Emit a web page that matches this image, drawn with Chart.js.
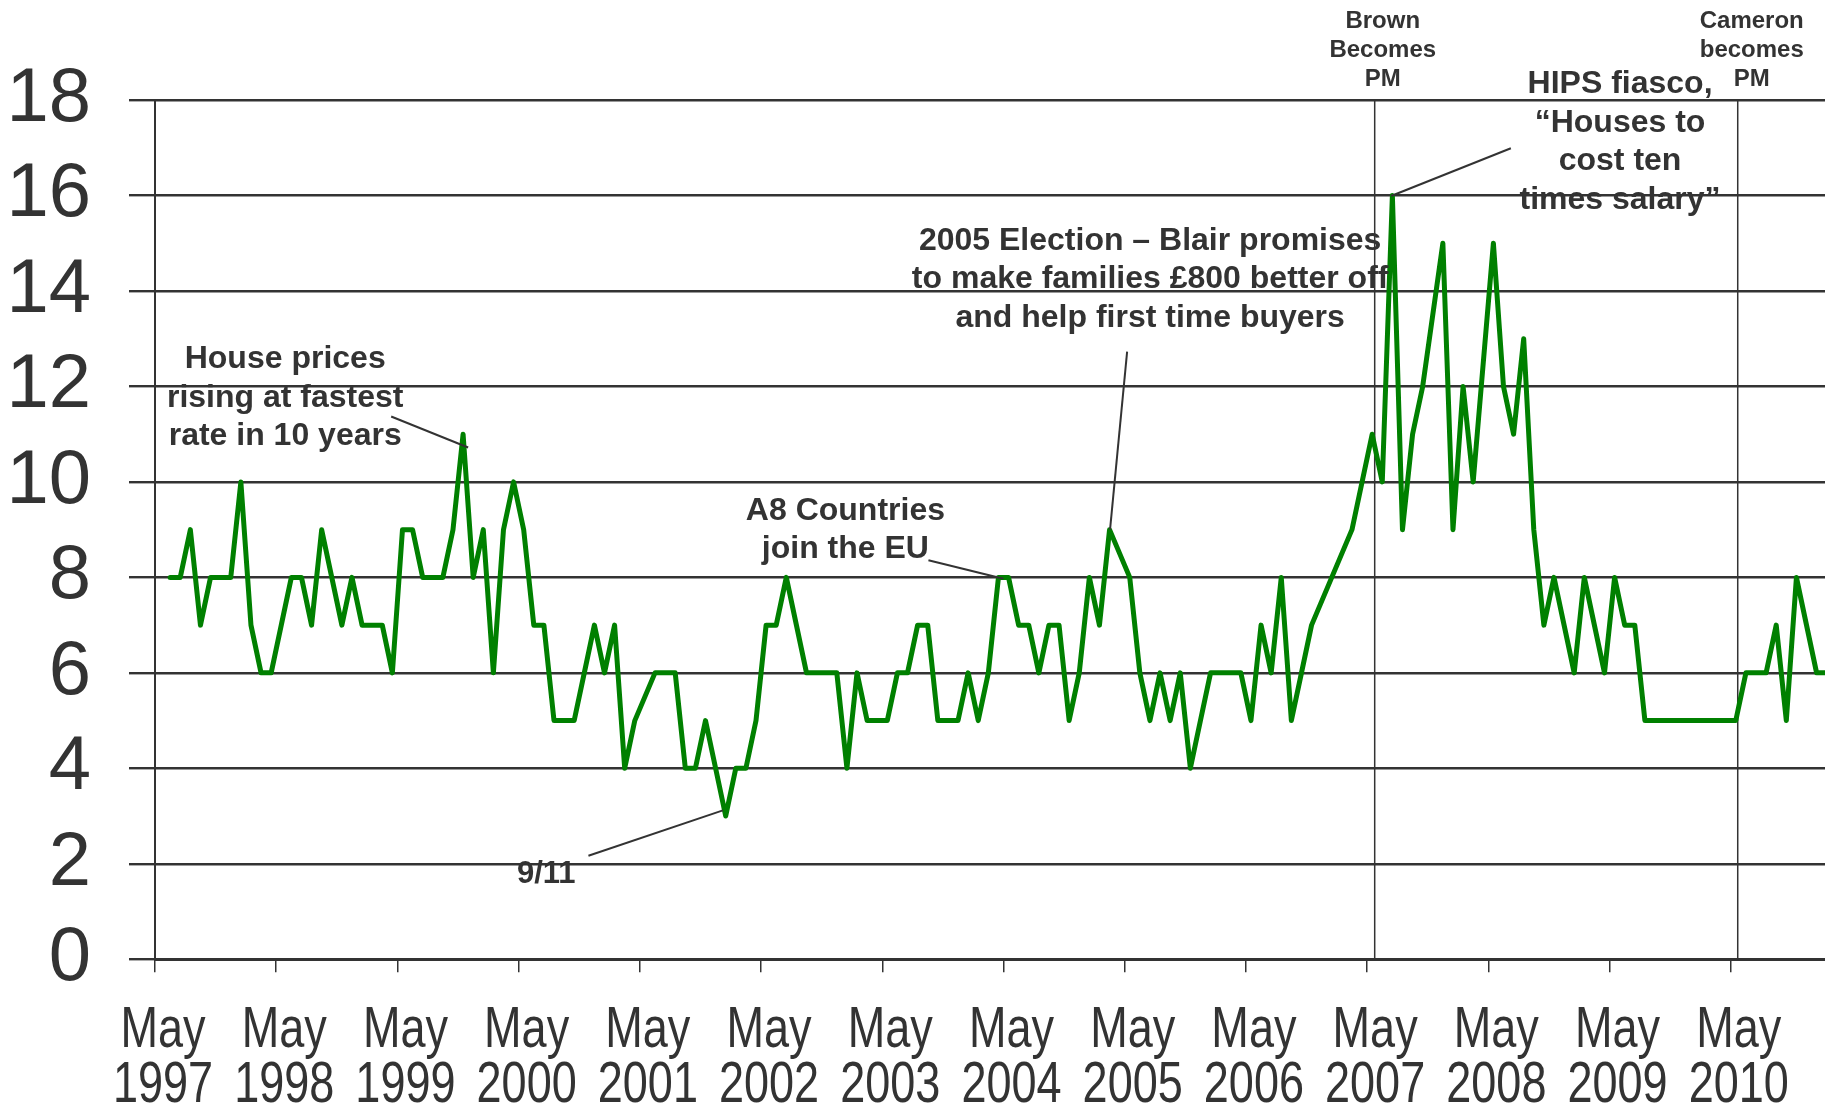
<!DOCTYPE html>
<html>
<head>
<meta charset="utf-8">
<title>Monthly count 1997-2010</title>
<script src="https://cdn.jsdelivr.net/npm/chart.js@4.4.1/dist/chart.umd.min.js"></script>
<style>
  html, body { margin: 0; padding: 0; background: #fff; overflow: hidden; }
  #wrap { width: 1825px; height: 1103px; }
</style>
</head>
<body>
<div id="wrap"><canvas id="chart" width="1825" height="1103"></canvas></div>
<script>
/* =========================
   DATA
========================= */
// one value per month, first point = June 1997 (null = month missing, line joins across)
const counts = [
  8, 8, 9, 7, 8, 8, 8, 10, 7, 6, 6, 7,
  8, 8, 7, 9, 8, 7, 8, 7, 7, 7, 6, 9,
  9, 8, 8, 8, 9, 11, 8, 9, 6, 9, 10, 9,
  7, 7, 5, 5, 5, 6, 7, 6, 7, 4, 5, null,
  6, 6, 6, 4, 4, 5, 4, 3, 4, 4, 5, 7,
  7, 8, 7, 6, 6, 6, 6, 4, 6, 5, 5, 5,
  6, 6, 7, 7, 5, 5, 5, 6, 5, 6, 8, 8,
  7, 7, 6, 7, 7, 5, 6, 8, 7, 9, null, 8,
  6, 5, 6, 5, 6, 4, 5, 6, 6, 6, 6, 5,
  7, 6, 8, 5, 6, 7, null, 8, null, 9, 10, 11,
  10, 16, 9, 11, 12, null, 15, 9, 12, 10, null, 15,
  12, 11, 13, 9, 7, 8, 7, 6, 8, 7, 6, 8,
  7, 7, 5, 5, 5, 5, 5, 5, 5, 5, 5, 5,
  6, 6, 6, 7, 5, 8, 7, 6, 6
];

// x axis: a tick every 12 months, labelled May of each year
const tickYears = ["1997", "1998", "1999", "2000", "2001", "2002", "2003", "2004", "2005", "2006", "2007", "2008", "2009", "2010"];
const tickMonth = "May";

// y axis
const yMin = 0;
const yMax = 18;
const yStep = 2;

// vertical event markers (month index)
const eventMonths = [119.25, 155.19];

// notes: text lines, anchor (month, value), optional leader line
const notes = [
  { text: ["House prices", "rising at fastest", "rate in 10 years"], x: 11.39, y: 12.63, size: 32, gap: 38.4,
    leader: [[21.88, 11.37], [29.5, 10.72]] },
  { text: ["9/11"], x: 37.23, y: 1.85, size: 31, gap: 38,
    leader: [[41.41, 2.17], [54.72, 3.12]] },
  { text: ["A8 Countries", "join the EU"], x: 66.85, y: 9.45, size: 32, gap: 38.4,
    leader: [[75.07, 8.36], [82.49, 7.97]] },
  { text: ["2005 Election \u2013 Blair promises", "to make families \u00a3800 better off", "and help first time buyers"], x: 97.02, y: 15.11, size: 32, gap: 38.4,
    leader: [[94.74, 12.73], [93.05, 9.0]] },
  { text: ["HIPS fiasco,", "\u201cHouses to", "cost ten", "times salary\u201d"], x: 143.54, y: 18.4, size: 32, gap: 38.8,
    leader: [[132.73, 16.99], [120.87, 15.99]] },
  { text: ["Brown", "Becomes", "PM"], x: 120.05, y: 19.72, size: 24, gap: 29 },
  { text: ["Cameron", "becomes", "PM"], x: 156.58, y: 19.72, size: 24, gap: 29 }
];

/* =========================
   CHART
========================= */
const GREY = "#333333";
const FONT = "'Liberation Sans', Arial, sans-serif";
const tickStart = -1.5;
const xMaxVal = 163.83;

const points = counts.map((v, i) => ({ x: i, y: v }));

const eventSets = eventMonths.map((m) => ({
  data: [{ x: m, y: yMin }, { x: m, y: yMax }],
  borderColor: GREY,
  borderWidth: 1.5,
  pointRadius: 0,
  fill: false
}));

// notes + leader lines
const notesPlugin = {
  id: "notes",
  afterDatasetsDraw(chart) {
    const ctx = chart.ctx;
    const xs = chart.scales.x;
    const ys = chart.scales.y;
    ctx.save();
    notes.forEach((n) => {
      if (n.leader) {
        ctx.strokeStyle = GREY;
        ctx.lineWidth = 2;
        ctx.beginPath();
        ctx.moveTo(xs.getPixelForValue(n.leader[0][0]), ys.getPixelForValue(n.leader[0][1]));
        ctx.lineTo(xs.getPixelForValue(n.leader[1][0]), ys.getPixelForValue(n.leader[1][1]));
        ctx.stroke();
      }
      ctx.font = "bold " + n.size + "px " + FONT;
      ctx.fillStyle = GREY;
      ctx.textAlign = "center";
      ctx.textBaseline = "middle";
      const cx = xs.getPixelForValue(n.x);
      const cy = ys.getPixelForValue(n.y) + 3;
      n.text.forEach((t, k) => ctx.fillText(t, cx, cy + k * n.gap));
    });
    ctx.restore();
  }
};

// x tick labels, condensed like the original (narrow face)
const xLabelsPlugin = {
  id: "xLabels",
  afterDraw(chart) {
    const ctx = chart.ctx;
    const xs = chart.scales.x;
    const base = chart.chartArea.bottom;
    ctx.save();
    ctx.font = "57px " + FONT;
    ctx.fillStyle = GREY;
    ctx.textAlign = "center";
    ctx.textBaseline = "middle";
    xs.ticks.forEach((t, k) => {
      const px = xs.getPixelForValue(t.value) + 8;
      [tickMonth, tickYears[k]].forEach((s, j) => {
        const w = ctx.measureText(s).width * 0.79;
        ctx.fillText(s, px, base + 72 + j * 55, w);
      });
    });
    ctx.restore();
  }
};

new Chart(document.getElementById("chart"), {
  type: "line",
  data: {
    datasets: [
      {
        data: points,
        borderColor: "#008000",
        borderWidth: 5,
        borderJoinStyle: "round",
        borderCapStyle: "round",
        pointRadius: 0,
        tension: 0,
        spanGaps: true,
        fill: false
      },
      ...eventSets
    ]
  },
  options: {
    responsive: false,
    devicePixelRatio: 1,
    animation: false,
    layout: { padding: { top: 100, right: 0, bottom: 0, left: 0 } },
    plugins: {
      legend: { display: false },
      tooltip: { enabled: false },
      title: { display: false }
    },
    scales: {
      x: {
        type: "linear",
        min: tickStart,
        max: xMaxVal,
        afterFit(scale) { scale.height = 143.7; },
        afterBuildTicks(scale) {
          scale.ticks = tickYears.map((y, k) => ({ value: tickStart + 12 * k }));
        },
        grid: {
          drawOnChartArea: false,
          drawTicks: true,
          tickLength: 13,
          color: GREY,
          lineWidth: 1.5
        },
        border: { display: true, color: GREY, width: 3 },
        ticks: { display: false, autoSkip: false }
      },
      y: {
        min: yMin,
        max: yMax,
        afterFit(scale) { scale.width = 155; },
        grid: {
          color: GREY,
          lineWidth: 2.4,
          drawTicks: true,
          tickLength: 26
        },
        border: { display: true, color: GREY, width: 2 },
        ticks: {
          stepSize: yStep,
          padding: 38,
          color: GREY,
          font: { family: FONT, size: 76 }
        }
      }
    }
  },
  plugins: [notesPlugin, xLabelsPlugin]
});
</script>
</body>
</html>
